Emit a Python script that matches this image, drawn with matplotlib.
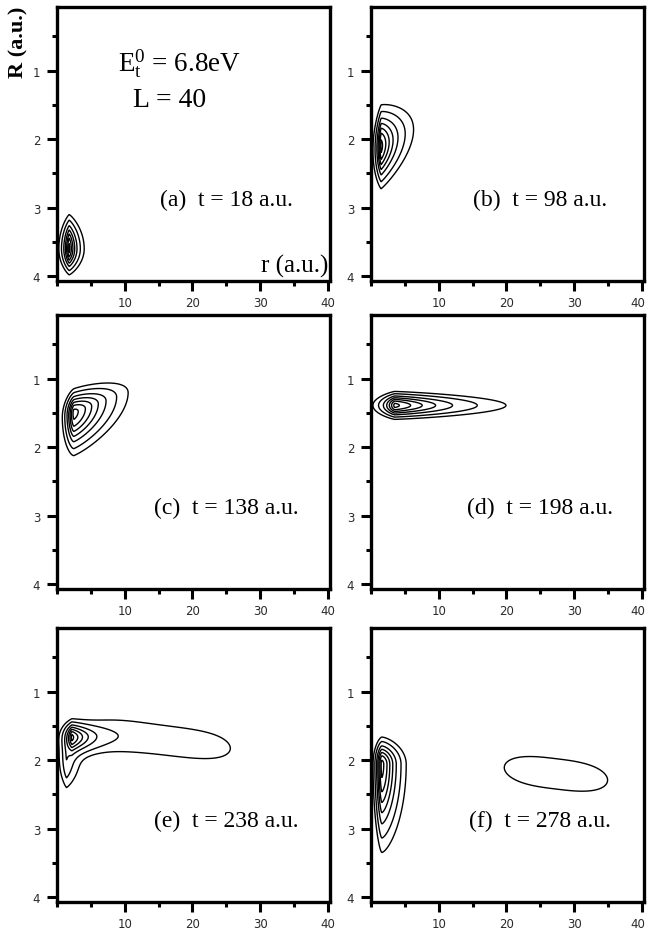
import numpy as np
import matplotlib
matplotlib.use('Agg')
import matplotlib.pyplot as plt
import matplotlib.transforms as mtransforms
from matplotlib.ticker import MultipleLocator

plt.rcParams['mathtext.fontset'] = 'custom'
plt.rcParams['mathtext.rm'] = 'Liberation Serif'
plt.rcParams['mathtext.it'] = 'Liberation Serif:italic'

#   panel tags and propagation times (a.u.)
tags = ['a', 'b', 'c', 'd', 'e', 'f']
times = [18, 98, 138, 198, 238, 278]

#   contour levels, as fractions of the panel maximum
levels = [0.1, 0.2, 0.35, 0.5, 0.65, 0.8, 0.95]

#   wave-packet pieces for each panel:
#   (r0, R0, s_left, s_right, s_up, s_down, p_r, tilt, amp)
pieces_a = [(1.8, 3.60, 0.43, 0.62, 0.233, 0.177, 1.2, 0.0, 1.0)]
pieces_b = [(1.5, 2.10, 0.34, 1.34, 0.28, 0.29, 1.2, -0.05, 1.0)]
pieces_c = [(2.5, 1.50, 0.62, 2.89, 0.165, 0.29, 1.5, -0.037, 1.0)]
pieces_d = [(3.5, 1.39, 0.90, 4.60, 0.095, 0.095, 1.2, 0.0, 1.0)]
pieces_e = [(2.2, 1.66, 0.50, 1.70, 0.12, 0.14, 1.2, 0.0, 1.0),
            (15.0, 1.70, 9.0, 11.2, 0.24, 0.24, 4.0, 0.012, 0.16),
            (1.4, 2.00, 0.50, 0.90, 0.20, 0.26, 1.2, 0.0, 0.35)]
pieces_f = [(1.6, 2.06, 0.47, 1.30, 0.185, 0.60, 1.5, 0.0, 1.0),
            (27.3, 2.20, 8.7, 8.7, 0.27, 0.27, 3.0, 0.012, 0.14)]
pieces = [pieces_a, pieces_b, pieces_c, pieces_d, pieces_e, pieces_f]

r = np.linspace(0, 41, 821)
R = np.linspace(0, 4.2, 841)
rr, RR = np.meshgrid(r, R)


def packet(r0, R0, sl, sr, su, sd, p, tilt, amp):
    dr = rr - r0
    s = np.where(dr < 0, sl, sr)
    dR = RR - R0 - tilt*dr
    t = np.where(dR < 0, su, sd)
    return amp*np.exp(-0.5*np.abs(dr/s)**p - 0.5*(dR/t)**2)


fig = plt.figure(figsize=(6.47, 9.37), dpi=100)

lefts = [0.0881, 0.5734]
bottoms = [0.699, 0.3703, 0.0363]
w, h = 0.4225, 0.2925

for i in range(6):
    ax = fig.add_axes([lefts[i % 2], bottoms[i // 2], w, h])

    z = sum(packet(*pc) for pc in pieces[i])
    ax.contour(rr, RR, z, levels=np.array(levels)*z.max(),
               colors='k', linewidths=1.0)

    ax.set_xlim(0, 40.35)
    ax.set_ylim(4.07, 0.07)
    ax.xaxis.set_major_locator(MultipleLocator(10))
    ax.xaxis.set_minor_locator(MultipleLocator(5))
    ax.yaxis.set_major_locator(MultipleLocator(1))
    ax.yaxis.set_minor_locator(MultipleLocator(0.5))
    ax.set_xticks([10, 20, 30, 40])
    ax.set_yticks([1, 2, 3, 4])
    ax.tick_params(which='major', direction='out', length=7.5, width=2.2,
                   labelsize=8.5, labelcolor='#2a2a2a')
    ax.tick_params(axis='x', which='major', pad=3.5)
    ax.tick_params(axis='y', which='major', pad=4.5)
    ax.tick_params(which='minor', direction='out', length=3.5, width=2.2)
    for sp in ax.spines.values():
        sp.set_linewidth(2.4)

    # keep the last r label inside the figure on the right-hand column
    if i % 2 == 1:
        lab = ax.get_xticklabels()[-1]
        lab.set_transform(lab.get_transform() +
                          mtransforms.ScaledTranslation(-4/100, 0, fig.dpi_scale_trans))

    ax.text(25, 2.88, '(%s)  t = %d a.u.' % (tags[i], times[i]),
            ha='center', va='center', fontsize=17, family='Liberation Serif')

    if i == 0:
        ax.text(18.1, 0.88, r'$\mathrm{E_t^0}$ = 6.8eV', ha='center', va='center',
                fontsize=19.5, family='Liberation Serif')
        ax.text(16.6, 1.42, 'L = 40', ha='center', va='center',
                fontsize=20, family='Liberation Serif')
        ax.text(40.0, 3.93, 'r (a.u.)', ha='right', va='baseline',
                fontsize=18, family='Liberation Serif')

fig.text(0.028, 0.955, 'R (a.u.)', rotation=90, ha='center', va='center',
         fontsize=16, fontweight='bold', family='Liberation Serif')

fig.savefig('out.png', dpi=100)
